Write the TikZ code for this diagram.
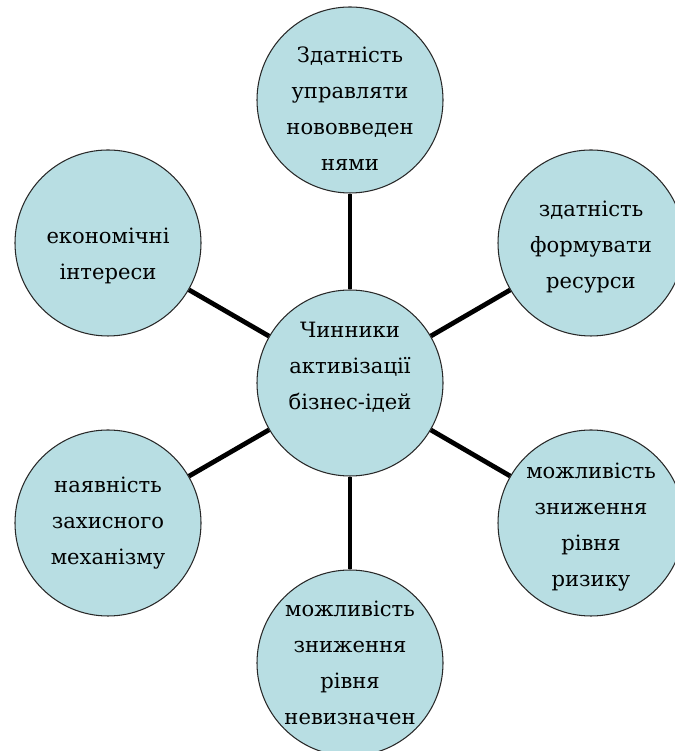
\documentclass[tikz,border=0pt]{standalone}
\usepackage{fontspec}
\setmainfont{DejaVu Serif}
\usepackage{tikz}
\usetikzlibrary{positioning}
\definecolor{paleteal}{RGB}{184,222,227}
\definecolor{rimgray}{RGB}{40,40,40}
\tikzset{
  factor/.style={circle,draw=rimgray,line width=0.6pt,fill=paleteal,minimum size=3.72cm,inner sep=0pt},
  caption/.style={align=center,inner sep=0pt,font=\fontsize{12}{20.5}\selectfont},
  spoke/.style={line width=2.7pt,draw=black}
}
\begin{document}
\begin{tikzpicture}
  \useasboundingbox (0,0) rectangle (13.48,15.02);
  % hub and the six factors round it
  \node[factor,label={[caption,yshift=0.32cm]center:Чинники\\активізації\\бізнес-ідей}] (hub) at (7.00,7.36) {};
  \node[factor,label={[caption,yshift=-0.18cm]center:Здатність\\управляти\\нововведен\\нями}] (innov) at (7.00,13.02) {};
  \node[factor,label={[caption,yshift=-0.08cm]center:здатність\\формувати\\ресурси}] (res) at (11.82,10.16) {};
  \node[factor,label={[caption,yshift=-0.26cm]center:економічні\\інтереси}] (econ) at (2.16,10.16) {};
  \node[factor,label={[caption]center:наявність\\захисного\\механізму}] (protect) at (2.16,4.56) {};
  \node[factor,label={[caption,yshift=-0.08cm]center:можливість\\зниження\\рівня\\ризику}] (risk) at (11.82,4.56) {};
  \node[factor,label={[caption]center:можливість\\зниження\\рівня\\невизначен}] (uncert) at (7.00,1.76) {};
  \foreach \n in {innov,res,econ,protect,risk,uncert}
    \draw[spoke] (hub) -- (\n);
\end{tikzpicture}
\end{document}
